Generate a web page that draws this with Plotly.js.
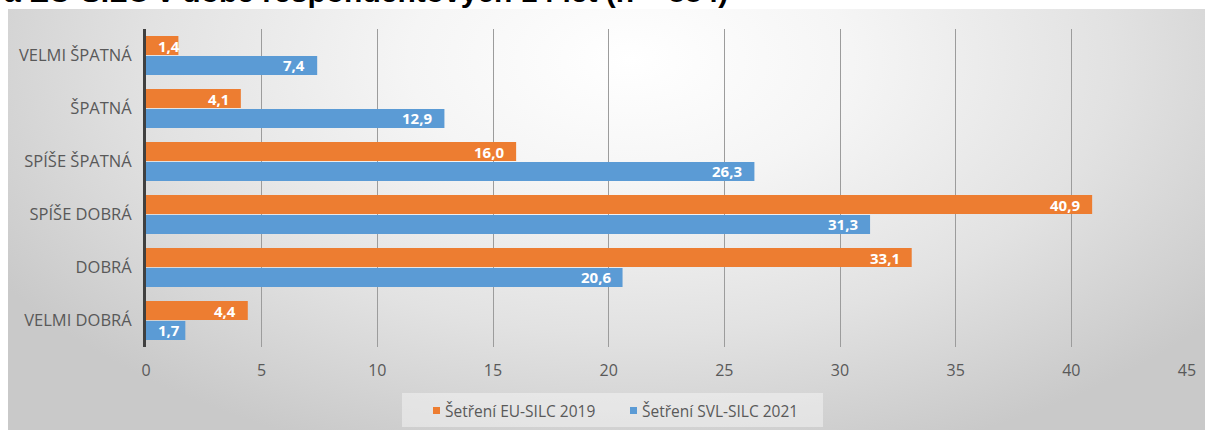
<!DOCTYPE html>
<html>
<head>
<meta charset="utf-8">
<script src="https://cdn.plot.ly/plotly-3.0.1.min.js"></script>
<style>
  html, body { margin: 0; padding: 0; background: #ffffff; }
  #wrap { position: relative; width: 1205px; height: 430px; overflow: hidden; }
  #bg { position: absolute; left: 8px; top: 9px; width: 1197px; height: 421px;
        background: radial-gradient(ellipse 62% 100% at 52% 12%, #ffffff 0%, #f5f5f5 30%, #e2e2e2 65%, #c9c9c9 100%); }
  #chart { position: absolute; left: 0; top: 0; width: 1205px; height: 430px; }
</style>
</head>
<body>
<div id="wrap"><div id="bg"></div><div id="chart"></div></div>
<script>
const titleText = 'a EU-SILC v době respondentových 14 let (n = 884)';
const categories = ['VELMI ŠPATNÁ', 'ŠPATNÁ', 'SPÍŠE ŠPATNÁ', 'SPÍŠE DOBRÁ', 'DOBRÁ', 'VELMI DOBRÁ'];
const eu2019 = [1.4, 4.1, 16.0, 40.9, 33.1, 4.4];
const svl2021 = [7.4, 12.9, 26.3, 31.3, 20.6, 1.7];
const seriesNames = ['Šetření EU-SILC 2019', 'Šetření SVL-SILC 2021'];
const seriesColors = ['#ED7D31', '#5B9BD5'];
const xTickVals = [0, 5, 10, 15, 20, 25, 30, 35, 40, 45];

const M = {l: 146, r: 18, t: 29, b: 83};
const plotW = 1205 - M.l - M.r;
const plotH = 430 - M.t - M.b;
const pxPerUnit = plotW / 45;
const fmt = v => v.toFixed(1).replace('.', ',');
const FONT = 'Open Sans, Liberation Sans, sans-serif';

const seriesValues = [eu2019, svl2021];
const traces = seriesValues.map((vals, k) => ({
  type: 'bar', orientation: 'h', name: seriesNames[k],
  y: categories, x: vals,
  marker: {color: seriesColors[k]},
  hoverinfo: 'none'
}));

const annotations = [];
const groupHalf = 0.75 / 4;
seriesValues.forEach((vals, k) => {
  vals.forEach((v, i) => {
    const t = fmt(v);
    const w = (t.length - 1) * 8.6 + 4;
    const fits = v * pxPerUnit - 11 - w >= 11;
    annotations.push({
      xref: 'x', yref: 'y',
      x: fits ? v : 0,
      y: i + (k === 0 ? -groupHalf : groupHalf),
      xanchor: fits ? 'right' : 'left',
      xshift: fits ? -10 : 10,
      yanchor: 'middle',
      text: t, showarrow: false,
      font: {family: FONT, size: 15, color: '#ffffff', weight: 700}
    });
  });
});

// title (clipped at top as in the source)
annotations.push({
  xref: 'paper', yref: 'paper',
  x: (2 - M.l) / plotW, y: (plotH + M.t - 10) / plotH,
  xanchor: 'left', yanchor: 'bottom',
  text: titleText, showarrow: false,
  font: {family: 'Liberation Sans, Arial, sans-serif', size: 30, color: '#000000', weight: 700}
});

// legend
const px2x = px => (px - M.l) / plotW;
const py2y = py => (M.t + plotH - py) / plotH;
const legendX = [433, 630];
const shapes = [{
  type: 'rect', xref: 'paper', yref: 'paper',
  x0: px2x(402), x1: px2x(823), y0: py2y(427), y1: py2y(393),
  fillcolor: 'rgba(255,255,255,0.4)', line: {width: 0}, layer: 'below'
}];
seriesNames.forEach((n, k) => {
  shapes.push({
    type: 'rect', xref: 'paper', yref: 'paper',
    x0: px2x(legendX[k]), x1: px2x(legendX[k] + 7), y0: py2y(414), y1: py2y(407),
    fillcolor: seriesColors[k], line: {width: 0}
  });
  annotations.push({
    xref: 'paper', yref: 'paper', x: px2x(legendX[k] + 10), y: py2y(410.5),
    xanchor: 'left', yanchor: 'middle', text: n, showarrow: false,
    font: {family: FONT, size: 15.5, color: '#595959'}
  });
});

const layout = {
  width: 1205, height: 430,
  margin: M,
  paper_bgcolor: 'rgba(0,0,0,0)', plot_bgcolor: 'rgba(0,0,0,0)',
  barmode: 'group', bargap: 0.25, bargroupgap: 0.05,
  showlegend: false,
  xaxis: {
    range: [0, 45], tickvals: xTickVals, ticktext: xTickVals.map(String),
    showgrid: true, gridcolor: '#9c9c9c', gridwidth: 1,
    zeroline: false, showline: false, ticks: '',
    ticklabelstandoff: 12,
    tickfont: {family: FONT, size: 16, color: '#595959'},
    fixedrange: true
  },
  yaxis: {
    type: 'category', categoryorder: 'array', categoryarray: categories,
    autorange: 'reversed',
    showgrid: false, zeroline: false,
    showline: true, linecolor: '#404040', linewidth: 3,
    ticks: '', ticklabelstandoff: 8,
    tickfont: {family: FONT, size: 16.5, color: '#595959'},
    fixedrange: true
  },
  shapes: shapes,
  annotations: annotations
};

Plotly.newPlot('chart', traces, layout, {staticPlot: true, displayModeBar: false});
</script>
</body>
</html>
